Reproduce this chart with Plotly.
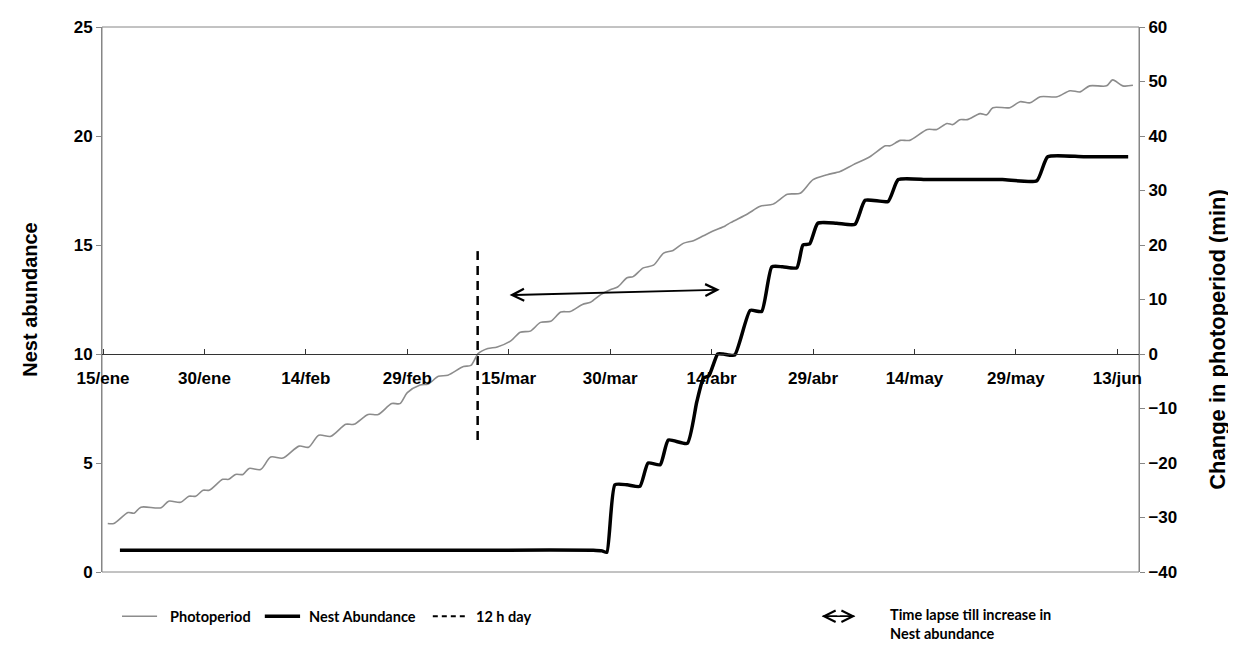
import plotly.graph_objects as go

# ---------------- data ----------------
tick_days = [0, 15, 30, 45, 60, 75, 90, 105, 120, 135, 150]
tick_labels = ["15/ene", "30/ene", "14/feb", "29/feb", "15/mar", "30/mar",
               "14/abr", "29/abr", "14/may", "29/may", "13/jun"]

# change in photoperiod (min), right axis; x = days since 15/ene
photo_days = [0.7, 1.6, 3.7, 4.6, 5.6, 8.6, 9.7, 11.5, 12.7, 13.7, 14.8, 15.7,
              17.7, 18.6, 19.6, 20.7, 21.6, 23.3, 24.8, 26.6, 29.0, 30.4, 31.9,
              33.7, 35.9, 37.1, 39.2, 40.7, 42.7, 43.9, 45.0, 46.9, 48.1, 49.6,
              51.0, 53.3, 54.4, 55.5, 56.9, 58.3, 60.3, 61.7, 63.2, 64.7, 66.2,
              67.7, 69.1, 70.9, 72.1, 73.6, 75.0, 76.1, 77.5, 78.4, 79.9, 81.4,
              82.9, 84.3, 85.8, 87.3, 88.8, 90.3, 92.0, 92.8, 95.3, 97.2, 99.1,
              101.2, 103.1, 105.0, 107.1, 109.0, 110.9, 113.4, 115.7, 116.4,
              117.9, 119.3, 121.9, 123.3, 124.8, 125.7, 126.7, 127.8, 129.7,
              130.7, 131.6, 134.1, 135.6, 137.1, 138.6, 141.1, 143.0, 144.5,
              145.9, 148.4, 149.3, 150.8, 152.3]
photo_vals = [-31.1, -31.1, -29.1, -29.2, -28.1, -28.2, -27.0, -27.2, -26.1, -26.1,
              -25.0, -25.0, -23.0, -23.0, -22.1, -22.1, -21.0, -21.2, -18.9, -19.1,
              -16.9, -17.1, -14.9, -15.1, -12.9, -12.9, -11.1, -11.1, -9.1, -9.1,
              -7.1, -5.7, -5.5, -4.1, -3.9, -2.3, -2.1, 0.1, 1.0, 1.3, 2.4, 4.0,
              4.2, 5.8, 6.0, 7.7, 7.8, 9.1, 9.5, 10.9, 11.8, 12.3, 14.0, 14.2,
              15.8, 16.3, 18.5, 19.0, 20.3, 20.8, 21.7, 22.6, 23.5, 24.1, 25.7,
              27.1, 27.5, 29.3, 29.5, 32.0, 32.9, 33.5, 34.7, 36.2, 38.2, 38.2,
              39.2, 39.2, 41.2, 41.2, 42.3, 42.1, 43.0, 43.0, 44.1, 43.9, 45.2,
              45.2, 46.3, 46.1, 47.2, 47.2, 48.3, 48.1, 49.2, 49.2, 50.3, 49.2,
              49.3]

# nest abundance, left axis
nest_days = [2.5, 20, 40, 60, 72.5, 73.8, 74.5, 75.7, 77.5, 79.4, 80.6, 82.4,
             83.6, 86.4, 87.8, 88.8, 89.6, 90.9, 91.7, 93.4, 95.7, 97.4, 98.9, 100.5,
             102.6, 103.5, 104.5, 105.7, 108.5, 111.2, 112.7, 116.1, 117.6, 122,
             128, 133, 138.1, 139.7, 145, 151.6]
nest_vals = [1.0, 1.0, 1.0, 1.0, 1.0, 0.97, 0.9, 4.0, 4.0, 3.93, 5.0, 4.92,
             6.05, 5.9, 7.8, 8.9, 9.0, 10.0, 10.0, 9.95, 12.0, 11.95, 14.0, 14.0,
             13.95, 15.0, 15.05, 16.0, 16.0, 15.95, 17.05, 17.0, 18.0, 18.0,
             18.0, 18.0, 17.95, 19.05, 19.05, 19.05]

# 12 h day marker (left-axis units)
day12_x = [55.4, 55.4]
day12_y = [6.05, 14.85]

# time-lapse arrow (left-axis units)
lapse_start = (59.9, 12.7)
lapse_end = (91.2, 12.95)

# ---------------- figure ----------------
AX_GRAY = "#868686"
ARIAL = "Liberation Sans, Arial, sans-serif"
TICKFONT = dict(family=ARIAL, size=17, color="black")
LEGFONT = dict(family="Lato, sans-serif", size=14.5, color="black")

fig = go.Figure()

fig.add_trace(go.Scatter(
    x=photo_days, y=photo_vals, yaxis="y2", mode="lines",
    line=dict(color="#8c8c8c", width=1.6, shape="spline", smoothing=0.8),
    name="Photoperiod", showlegend=False, hoverinfo="skip"))

fig.add_trace(go.Scatter(
    x=nest_days, y=nest_vals, mode="lines",
    line=dict(color="black", width=3.5, shape="spline", smoothing=0.5),
    name="Nest Abundance", showlegend=False, hoverinfo="skip"))

fig.add_trace(go.Scatter(
    x=day12_x, y=day12_y, mode="lines",
    line=dict(color="black", width=2.5, dash="9px,6px"),
    name="12 h day", showlegend=False, hoverinfo="skip"))

fig.add_annotation(
    x=lapse_end[0], y=lapse_end[1], ax=lapse_start[0], ay=lapse_start[1],
    xref="x", yref="y", axref="x", ayref="y", text="",
    showarrow=True, arrowside="end+start", arrowhead=5, arrowsize=1.3,
    arrowwidth=1.8, arrowcolor="black", standoff=0, startstandoff=0)

# ---------------- manual legend ----------------
ly = -0.0812
fig.add_shape(type="line", xref="paper", yref="paper", x0=0.0193, x1=0.0531,
              y0=ly, y1=ly, line=dict(color="#8c8c8c", width=1.6))
fig.add_annotation(xref="paper", yref="paper", x=0.0636, y=ly, text="<b>Photoperiod</b>",
                   showarrow=False, xanchor="left", yanchor="middle", font=LEGFONT)
fig.add_shape(type="line", xref="paper", yref="paper", x0=0.157, x1=0.191,
              y0=ly, y1=ly, line=dict(color="black", width=3.5))
fig.add_annotation(xref="paper", yref="paper", x=0.1977, y=ly, text="<b>Nest Abundance</b>",
                   showarrow=False, xanchor="left", yanchor="middle", font=LEGFONT)
fig.add_shape(type="line", xref="paper", yref="paper", x0=0.319, x1=0.351,
              y0=ly, y1=ly, line=dict(color="black", width=2, dash="5px,4px"))
fig.add_annotation(xref="paper", yref="paper", x=0.3587, y=ly, text="<b>12 h day</b>",
                   showarrow=False, xanchor="left", yanchor="middle", font=LEGFONT)
# legend double arrow: shaft + two heads pointing outwards
fig.add_shape(type="line", xref="paper", yref="paper", x0=0.695, x1=0.7255,
              y0=ly, y1=ly, line=dict(color="black", width=1.5))
for x_tip, ax_off in ((0.694, 17), (0.7265, -17)):
    fig.add_annotation(xref="paper", yref="paper", x=x_tip, y=ly, ax=ax_off, ay=0,
                       text="", showarrow=True, arrowhead=5,
                       arrowsize=1.5, arrowwidth=1.5, arrowcolor="black",
                       standoff=0)
fig.add_annotation(xref="paper", yref="paper", x=0.758, y=ly + 0.022,
                   text="<b>Time lapse till increase in<br>Nest abundance</b>",
                   showarrow=False, xanchor="left", yanchor="top", align="left",
                   font=LEGFONT)

# right axis title (placed like in the reference: slightly below centre)
fig.add_annotation(xref="paper", yref="paper", x=1.0762, y=0.426,
                   text="<b>Change in photoperiod (min)</b>", textangle=-90,
                   showarrow=False, xanchor="center", yanchor="middle",
                   font=dict(family=ARIAL, size=22, color="black"))

# plot-area border
fig.add_shape(type="rect", xref="paper", yref="paper", x0=0, x1=1, y0=0, y1=1,
              line=dict(color=AX_GRAY, width=1), layer="below")

fig.update_layout(
    width=1228, height=639,
    margin=dict(l=94, r=97, t=10, b=75),
    plot_bgcolor="white", paper_bgcolor="white",
    showlegend=False,
    xaxis=dict(
        range=[-0.15, 153.2], anchor="free", position=0.4,
        tickmode="array", tickvals=tick_days, ticktext=[f"<b>{t}</b>" for t in tick_labels],
        ticks="inside", ticklen=5, tickcolor="#333", tickwidth=1,
        showline=True, linecolor="#333", linewidth=1,
        showgrid=False, zeroline=False, tickfont=TICKFONT, ticklabelstandoff=9),
    yaxis=dict(
        range=[0, 25], dtick=5, tickmode="linear", tick0=0,
        ticks="outside", ticklen=5, tickcolor=AX_GRAY,
        showline=True, linecolor=AX_GRAY, linewidth=1,
        showgrid=False, zeroline=False,
        tickfont=TICKFONT, tickprefix="<b>", ticksuffix="</b>",
        title=dict(text="<b>Nest abundance</b>", standoff=30,
                   font=dict(family=ARIAL, size=20, color="black"))),
    yaxis2=dict(
        range=[-40, 60], dtick=10, tickmode="linear", tick0=0,
        overlaying="y", side="right",
        ticks="outside", ticklen=5, tickcolor=AX_GRAY,
        showline=True, linecolor=AX_GRAY, linewidth=1,
        showgrid=False, zeroline=False,
        tickfont=TICKFONT, tickprefix="<b>", ticksuffix="</b>"),
)

fig.write_html("out.html")
